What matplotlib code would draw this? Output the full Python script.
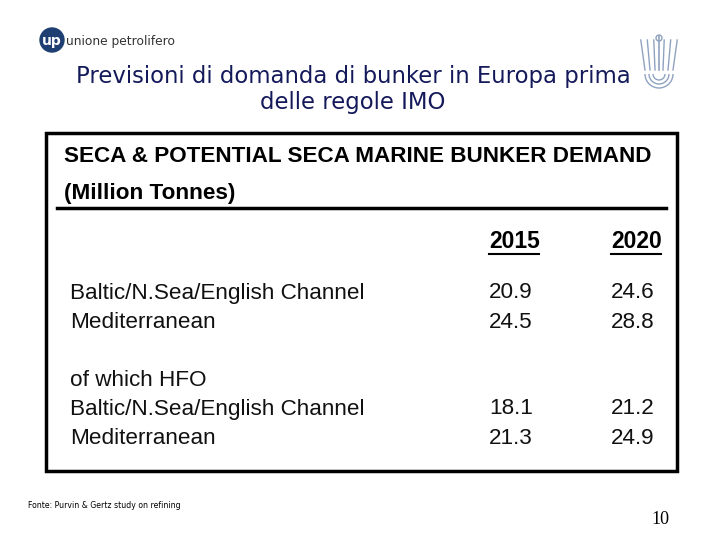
import numpy as np
import matplotlib.pyplot as plt
from matplotlib.patches import Rectangle, Circle, Arc

# table content
titolo = ["Previsioni di domanda di bunker in Europa prima", "delle regole IMO"]
intestazione = "SECA & POTENTIAL SECA MARINE BUNKER DEMAND"
unita = "(Million Tonnes)"
anni = ["2015", "2020"]
righe = ["Baltic/N.Sea/English Channel", "Mediterranean", None,
         "of which HFO", "Baltic/N.Sea/English Channel", "Mediterranean"]
val_2015 = [20.9, 24.5, None, None, 18.1, 21.3]
val_2020 = [24.6, 28.8, None, None, 21.2, 24.9]
fonte = "Fonte: Purvin & Gertz study on refining"
pagina = "10"

fig = plt.figure(figsize=(7.2, 5.4), dpi=100)
ax = fig.add_axes([0, 0, 1, 1])
ax.set_xlim(0, 720)
ax.set_ylim(540, 0)
ax.axis('off')

# logo unione petrolifera
ax.add_patch(Circle((52, 40), 12, color='#1f3f73'))
ax.text(52, 41, 'up', color='white', fontsize=10, fontweight='bold',
        ha='center', va='center', family='DejaVu Sans')
ax.text(66, 41, 'unione petrolifero', color='#333333', fontsize=8.8,
        ha='left', va='center', family='DejaVu Sans')

# emblema a destra (approssimato)
emb = '#8fa3c0'
for r in [6, 10, 14]:
    ax.add_patch(Arc((659, 74), 2 * r, 2 * r, theta1=0, theta2=180, color=emb, lw=1))
for dx in [-14, -9, -4, 4, 9, 14]:
    ax.plot([659 + dx, 659 + dx * 1.3], [70, 40], color=emb, lw=1)
ax.plot([659, 659], [36, 70], color=emb, lw=1.2)
ax.add_patch(Circle((659, 38), 3, fill=False, color=emb, lw=1))

# titolo
for i, t in enumerate(titolo):
    ax.text(353, 76 + 27 * i, t, color='#14195a', fontsize=16.4,
            ha='center', va='center', family='DejaVu Sans')

# riquadro
ax.add_patch(Rectangle((46, 133), 631, 338, fill=False, ec='black', lw=2.5))
ax.text(64, 157, intestazione, fontsize=16.2, fontweight='bold',
        ha='left', va='center', family='Liberation Sans')
ax.text(64, 194, unita, fontsize=16.2, fontweight='bold',
        ha='left', va='center', family='Liberation Sans')
ax.plot([57, 666], [208, 208], color='black', lw=2.5)

col_x = [489, 611]
for x, a in zip(col_x, anni):
    ax.text(x, 241, a, fontsize=16.5, fontweight='bold',
            ha='left', va='center', family='Liberation Sans')
    ax.plot([x, x + 50], [254, 254], color='black', lw=1.5)

row_y = [293, 322, 351, 380, 409, 438]
for y, nome, v1, v2 in zip(row_y, righe, val_2015, val_2020):
    if nome is not None:
        ax.text(70, y, nome, fontsize=16.2, ha='left', va='center',
                family='Liberation Sans', color='#111111')
    if v1 is not None:
        ax.text(col_x[0], y, f"{v1:.1f}", fontsize=16.2, ha='left', va='center',
                family='Liberation Sans', color='#111111')
        ax.text(col_x[1], y, f"{v2:.1f}", fontsize=16.2, ha='left', va='center',
                family='Liberation Sans', color='#111111')

# piede
ax.text(28, 505, fonte, fontsize=5.6, ha='left', va='center',
        family='DejaVu Sans')
ax.text(669, 520, pagina, fontsize=13, ha='right', va='center',
        family='Liberation Serif')

fig.savefig('out.png', dpi=100)
